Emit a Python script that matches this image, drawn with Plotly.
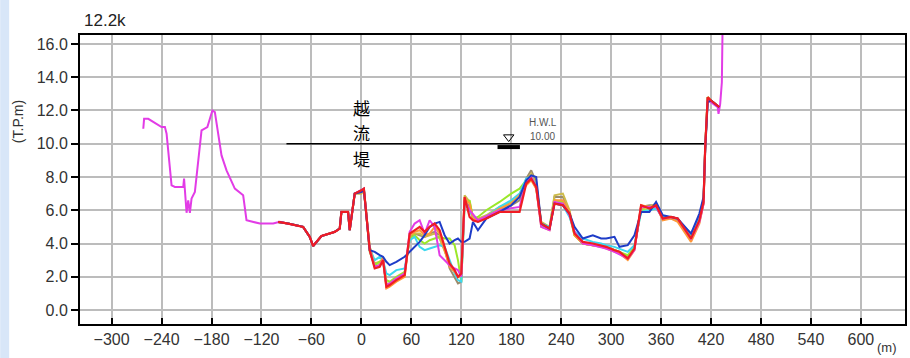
import plotly.graph_objects as go

# ---------------- data ----------------
x_ticks = [-300, -240, -180, -120, -60, 0, 60, 120, 180, 240, 300, 360, 420, 480, 540, 600]
y_ticks = [0, 2, 4, 6, 8, 10, 12, 14, 16]

hwl_level = 10.0
hwl_x = [-90, 412]
hwl_y = [10.0, 10.0]
hwl_mark_x = 177

weir_label = ["越", "流", "堤"]
weir_label_y = [12.2, 10.7, 9.1]

# ground line (magenta), full section
ground_x = [-262, -261, -256, -240, -236, -234, -228, -224, -214, -213,
            -210, -208, -206, -204, -200, -192, -185, -179, -176, -168,
            -162, -152, -142, -138, -122, -106, -98, -88, -70, -62,
            -58, -48, -32, -26, -24, -16, -14, -8, 0, 3,
            10, 16, 22, 26, 30, 34, 42, 52, 58, 64,
            70, 76, 82, 88, 94, 100, 106, 112, 116, 120,
            124, 130, 140, 166, 190, 198, 204, 210, 216, 226,
            232, 242, 250, 256, 266, 278, 294, 304, 320, 328,
            336, 346, 354, 362, 372, 380, 396, 406, 411, 413,
            416, 420, 428, 429, 431, 433, 434]
ground_y = [10.9, 11.5, 11.5, 11.0, 11.0, 10.6, 7.5, 7.4, 7.4, 7.9,
            5.85, 6.6, 5.85, 6.7, 7.1, 10.8, 11.0, 12.0, 11.9, 9.3,
            8.4, 7.3, 6.9, 5.4, 5.2, 5.2, 5.3, 5.2, 5.0, 4.4,
            3.85, 4.45, 4.7, 4.9, 5.9, 5.9, 4.8, 7.0, 7.2, 7.3,
            3.6, 2.6, 2.7, 3.0, 1.5, 1.6, 1.9, 2.2, 4.7, 5.2,
            5.4, 4.6, 5.4, 5.0, 3.3, 3.0, 2.7, 2.5, 2.4, 2.0,
            6.6, 6.0, 5.4, 6.0, 6.2, 7.7, 8.0, 7.4, 5.0, 4.8,
            6.5, 6.4, 5.7, 4.7, 4.0, 3.9, 3.7, 3.5, 3.1, 3.6,
            6.2, 6.2, 6.2, 5.5, 5.6, 5.5, 4.3, 5.3, 6.4, 9.8,
            12.6, 12.5, 12.2, 11.8, 12.4, 13.7, 17.5]

# survey sections (common stations)
x_sec = [-100, -88, -70, -62, -58, -48, -32, -26, -24, -16,
         -14, -8, 0, 3, 10, 16, 22, 26, 30, 34,
         42, 52, 58, 64, 70, 76, 82, 88, 94, 100,
         106, 112, 116, 120, 124, 130, 134, 140, 150, 166,
         180, 190, 198, 204, 210, 216, 226, 232, 242, 250,
         256, 266, 278, 288, 294, 304, 310, 320, 328, 336,
         346, 354, 362, 372, 380, 396, 406, 411, 413, 416,
         420, 430]

y_red = [5.3, 5.2, 5.0, 4.4, 3.85, 4.45, 4.7, 4.9, 5.9, 5.9,
         4.8, 7.0, 7.2, 7.3, 3.6, 2.5, 2.6, 3.0, 1.4, 1.5,
         1.8, 2.1, 4.6, 4.8, 5.0, 4.7, 5.0, 5.2, 4.8, 3.8,
         2.8, 2.4, 2.0, 2.2, 6.8, 5.6, 5.4, 5.3, 5.5, 5.9,
         5.9, 5.9, 7.6, 7.9, 7.4, 5.2, 4.9, 6.4, 6.3, 5.8,
         4.6, 4.1, 4.0, 3.9, 3.8, 3.6, 3.5, 3.1, 3.7, 6.3,
         6.1, 6.3, 5.5, 5.6, 5.5, 4.3, 5.4, 6.5, 9.8, 12.8,
         12.6, 12.2]
y_blue = [5.3, 5.2, 5.0, 4.4, 3.85, 4.45, 4.7, 4.9, 5.9, 5.9,
          4.8, 7.0, 7.1, 7.2, 3.6, 3.5, 3.3, 3.2, 2.9, 2.7,
          2.9, 3.2, 3.5, 3.8, 4.1, 4.5, 5.0, 5.2, 5.3, 4.5,
          4.0, 4.2, 4.3, 4.1, 4.1, 4.3, 5.3, 4.8, 5.5, 5.9,
          6.3, 6.8, 7.8, 8.1, 8.0, 5.2, 4.9, 6.4, 6.3, 5.8,
          5.0, 4.3, 4.5, 4.3, 4.3, 4.4, 3.8, 3.9, 4.5, 5.9,
          5.9, 6.5, 5.7, 5.6, 5.5, 4.6, 5.8, 6.8, 9.6, 12.5,
          12.6, 12.2]
y_cyan = [5.3, 5.2, 5.0, 4.4, 3.85, 4.45, 4.7, 4.9, 5.9, 5.9,
          4.8, 7.0, 7.2, 7.3, 3.7, 3.0, 3.2, 3.0, 2.2, 2.1,
          2.4, 2.5, 4.2, 4.4, 3.8, 3.6, 3.7, 3.8, 3.9, 3.8,
          3.0, 2.2, 1.8, 1.7, 6.5, 5.9, 5.6, 5.3, 5.6, 6.2,
          6.6, 7.0, 7.9, 8.0, 7.5, 5.2, 5.0, 6.4, 6.3, 5.6,
          4.7, 4.3, 4.1, 4.0, 3.9, 3.8, 3.7, 3.5, 3.9, 5.9,
          6.0, 6.1, 5.6, 5.5, 5.4, 4.6, 5.6, 6.6, 9.8, 12.7,
          12.6, 12.2]
y_lime = [5.3, 5.2, 5.0, 4.4, 3.85, 4.45, 4.7, 4.9, 5.9, 5.9,
          4.8, 7.0, 7.2, 7.3, 3.5, 2.7, 2.9, 3.0, 1.8, 1.7,
          2.0, 2.3, 4.3, 4.5, 4.2, 4.0, 4.2, 4.3, 4.4, 4.3,
          4.3, 3.9, 3.0, 1.7, 6.3, 6.6, 5.5, 5.6, 6.0, 6.5,
          7.0, 7.3, 7.8, 7.9, 7.3, 5.2, 5.0, 6.6, 6.5, 5.7,
          4.5, 4.0, 3.9, 3.9, 3.8, 3.6, 3.5, 3.3, 3.8, 6.0,
          6.0, 6.2, 5.5, 5.6, 5.4, 4.4, 5.4, 6.5, 9.8, 12.8,
          12.6, 12.2]
y_olive = [5.3, 5.2, 5.0, 4.4, 3.85, 4.45, 4.7, 4.9, 5.9, 5.9,
           4.8, 7.0, 7.0, 7.2, 3.8, 2.8, 2.9, 3.1, 1.6, 1.6,
           1.9, 2.2, 4.5, 4.6, 4.6, 4.4, 4.5, 4.6, 4.3, 3.6,
           2.8, 2.3, 2.0, 2.0, 6.9, 6.5, 5.6, 5.5, 5.7, 6.2,
           6.5, 6.8, 7.8, 8.2, 7.6, 5.3, 5.0, 6.9, 7.0, 6.0,
           4.5, 4.0, 3.9, 3.9, 3.8, 3.6, 3.5, 3.2, 3.8, 6.1,
           6.2, 6.4, 5.6, 5.6, 5.5, 4.4, 5.4, 6.5, 9.8, 12.8,
           12.6, 12.2]
y_orange = [5.3, 5.2, 5.0, 4.4, 3.85, 4.45, 4.7, 4.9, 5.9, 5.9,
            4.8, 7.0, 7.1, 7.2, 3.8, 2.6, 2.7, 3.2, 1.3, 1.4,
            1.7, 2.0, 4.5, 4.7, 4.8, 4.5, 4.6, 5.0, 4.6, 3.6,
            2.6, 2.3, 2.0, 2.1, 6.7, 6.4, 5.5, 5.4, 5.6, 6.1,
            6.4, 6.9, 7.5, 7.8, 7.3, 5.0, 4.8, 6.6, 6.6, 5.9,
            4.5, 4.0, 3.9, 3.8, 3.7, 3.5, 3.4, 3.0, 3.6, 6.3,
            6.2, 6.3, 5.4, 5.5, 5.3, 4.1, 5.2, 6.4, 9.8, 12.8,
            12.6, 12.2]
y_gray = [5.3, 5.2, 5.0, 4.4, 3.85, 4.45, 4.7, 4.9, 5.9, 5.9,
          4.8, 7.0, 7.2, 7.3, 3.6, 2.6, 2.7, 3.0, 1.5, 1.5,
          1.9, 2.2, 4.4, 4.6, 4.5, 4.4, 4.6, 4.7, 4.5, 3.7,
          2.5, 2.0, 1.6, 1.7, 6.6, 6.2, 5.5, 5.4, 5.6, 6.0,
          6.3, 6.6, 7.9, 8.4, 7.7, 5.1, 4.9, 6.8, 6.8, 5.9,
          4.6, 4.0, 3.9, 3.8, 3.8, 3.6, 3.5, 3.1, 3.7, 6.2,
          6.3, 6.3, 5.5, 5.6, 5.5, 4.3, 5.3, 6.4, 9.8, 12.8,
          12.6, 12.2]

# ---------------- figure ----------------
fig = go.Figure()

# HWL line
fig.add_trace(go.Scatter(x=hwl_x, y=hwl_y, mode="lines",
                         line=dict(color="black", width=1.6), hoverinfo="skip"))

series = [
    (y_gray, "#9c8c6c"),
    (y_olive, "#cdbb4a"),
    (y_lime, "#9be82a"),
    (y_cyan, "#3cd8ef"),
    (y_orange, "#ff9838"),
]
for ys, col in series:
    fig.add_trace(go.Scatter(x=x_sec, y=ys, mode="lines",
                             line=dict(color=col, width=2)))

fig.add_trace(go.Scatter(x=ground_x, y=ground_y, mode="lines",
                         line=dict(color="#e23ce6", width=2)))
fig.add_trace(go.Scatter(x=x_sec, y=y_blue, mode="lines",
                         line=dict(color="#1e3cc8", width=2)))
fig.add_trace(go.Scatter(x=x_sec, y=y_red, mode="lines",
                         line=dict(color="#f01c24", width=2.2)))

# HWL symbol
fig.add_trace(go.Scatter(x=[hwl_mark_x], y=[hwl_level + 0.4], mode="markers",
                         marker=dict(symbol="triangle-down-open", size=9,
                                     color="black", line=dict(width=1, color="black"))))
fig.add_trace(go.Scatter(x=[hwl_mark_x], y=[hwl_level - 0.2], mode="markers",
                         marker=dict(symbol="line-ew", size=16,
                                     line=dict(width=4, color="black"))))

font_main = "Liberation Sans, Arial, sans-serif"
grid_col = "#bcbcbc"

annotations = [
    dict(text="12.2k", xref="paper", yref="paper", x=2 / 827, y=1 + 15 / 289,
         xanchor="left", yanchor="middle", showarrow=False,
         font=dict(size=17, color="#222")),
    dict(text="(T.P.m)", xref="paper", yref="paper", x=-62 / 827, y=(324 - 122) / 289,
         xanchor="center", yanchor="middle", textangle=-90, showarrow=False,
         font=dict(size=14, color="#333")),
    dict(text="(m)", xref="paper", yref="paper", x=(889 - 80) / 827, y=-(347 - 324) / 289,
         xanchor="center", yanchor="middle", showarrow=False,
         font=dict(size=13, color="#333")),
    dict(text="H.W.L", x=218, y=11.25, xref="x", yref="y", showarrow=False,
         xanchor="center", yanchor="middle", font=dict(size=10, color="#555")),
    dict(text="10.00", x=218, y=10.42, xref="x", yref="y", showarrow=False,
         xanchor="center", yanchor="middle", font=dict(size=10, color="#555")),
]
for ch, yy in zip(weir_label, weir_label_y):
    annotations.append(dict(text=ch, x=0, y=yy, xref="x", yref="y",
                            xanchor="center", yanchor="middle", showarrow=False,
                            font=dict(size=17, color="black", family="Noto Sans CJK JP")))

shapes = [dict(type="rect", xref="paper", yref="paper",
               x0=-80 / 827, x1=-71 / 827, y0=-34 / 289, y1=1 + 35 / 289,
               fillcolor="#d8e6f8", line=dict(width=0), layer="below")]

fig.update_layout(
    width=910, height=358,
    margin=dict(l=80, r=3, t=35, b=34),
    paper_bgcolor="white", plot_bgcolor="white",
    showlegend=False,
    font=dict(family=font_main, color="#222"),
    xaxis=dict(range=[-338, 653], tickmode="array", tickvals=x_ticks,
               ticktext=[("−" + str(-v)) if v < 0 else str(v) for v in x_ticks],
               showgrid=True, gridcolor=grid_col, gridwidth=2,
               zeroline=False, showline=True, linecolor="black", linewidth=2,
               mirror=True, ticks="inside", ticklen=6, tickwidth=1.5,
               tickcolor="black", tickfont=dict(size=16, color="#333")),
    yaxis=dict(range=[-0.84, 16.54], tickmode="array", tickvals=y_ticks,
               ticktext=["%.1f" % v for v in y_ticks],
               showgrid=True, gridcolor=grid_col, gridwidth=2,
               zeroline=False, showline=True, linecolor="black", linewidth=2,
               mirror=True, ticks="outside", ticklen=7, tickwidth=1.5,
               tickcolor="black", tickfont=dict(size=16, color="#333")),
    shapes=shapes,
    annotations=annotations,
)

fig.write_html("out.html", config={"displayModeBar": False},
               post_script="document.body.style.margin='0';document.body.style.overflow='hidden';")
